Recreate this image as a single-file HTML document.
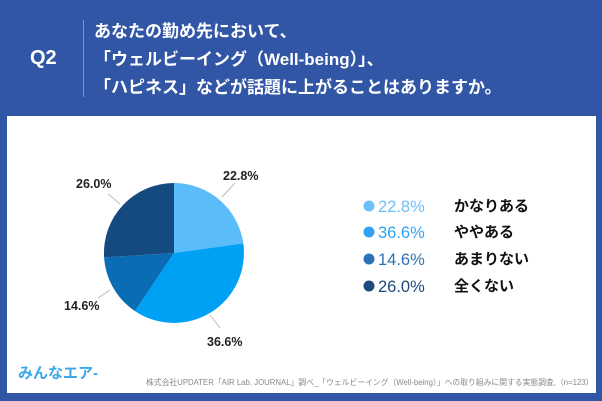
<!DOCTYPE html>
<html><head><meta charset="utf-8"><style>
body{margin:0;width:602px;height:401px;background:#3156a6;position:relative;overflow:hidden;font-family:"Liberation Sans","Noto Sans CJK JP",sans-serif}
.q{position:absolute;left:30px;top:47px;color:#fff;font-weight:bold;font-size:20px}
.bar{position:absolute;left:83px;top:20px;width:1px;height:77px;background:#7a94cc}
.t{position:absolute;left:94px;top:18px;color:#fff;font-weight:bold;font-size:17px;line-height:28px;white-space:nowrap}
.panel{position:absolute;left:7px;top:116px;width:589px;height:277px;background:#fff}
.foot{position:absolute;left:146px;top:377px;font-size:7.8px;color:#888;white-space:nowrap}
.logo{position:absolute;left:18px;top:362px;font-size:15px;color:#3aa8e8;font-weight:bold}
</style></head><body>
<div class="q">Q2</div><div class="bar"></div>
<div class="t">あなたの勤め先において、<br>「ウェルビーイング（Well-being）」、<br>「ハピネス」などが話題に上がることはありますか。</div>
<div class="panel"></div>
<svg style="position:absolute;left:0;top:0" width="602" height="401">
<path d="M174,253 L174,183 A70,70 0 0 1 243.3,243.4 Z" fill="#5bbcfa"/>
<path d="M174,253 L243.3,243.4 A70,70 0 0 1 135,311.1 Z" fill="#00a0f5"/>
<path d="M174,253 L135,311.1 A70,70 0 0 1 104.1,257.4 Z" fill="#0a6cb5"/>
<path d="M174,253 L104.1,257.4 A70,70 0 0 1 174,183 Z" fill="#154a80"/>
<g stroke="#bbb" stroke-width="1" fill="none">
<line x1="222" y1="197" x2="235" y2="183"/>
<line x1="210" y1="315" x2="220" y2="328"/>
<line x1="110" y1="290" x2="98" y2="298"/>
<line x1="120" y1="204" x2="108" y2="194"/>
</g>
<g font-family="Liberation Sans, sans-serif" font-size="12.5" fill="#222" font-weight="bold">
<text x="223" y="180">22.8%</text>
<text x="207" y="346">36.6%</text>
<text x="64" y="310">14.6%</text>
<text x="76" y="188">26.0%</text>
</g>
<g font-family="Liberation Sans, sans-serif" font-size="16.5">
<circle cx="369" cy="206" r="5.5" fill="#6cc0f8"/><text x="378" y="212" fill="#6cc0f8">22.8%</text>
<circle cx="369" cy="232" r="5.5" fill="#2fa3f2"/><text x="378" y="238" fill="#2fa3f2">36.6%</text>
<circle cx="369" cy="259" r="5.5" fill="#2d72b4"/><text x="378" y="265" fill="#2d72b4">14.6%</text>
<circle cx="369" cy="286" r="5.5" fill="#1c4a7c"/><text x="378" y="292" fill="#1c4a7c">26.0%</text>
</g>
<g font-family="Liberation Sans, Noto Sans CJK JP, sans-serif" font-size="15" font-weight="bold" fill="#111">
<text x="454" y="211">かなりある</text>
<text x="454" y="237">ややある</text>
<text x="454" y="264">あまりない</text>
<text x="454" y="291">全くない</text>
</g>
</svg>
<div class="logo">みんなエア-</div>
<div class="foot">株式会社UPDATER「AIR Lab. JOURNAL」調べ_「ウェルビーイング（Well-being）」への取り組みに関する実態調査,（n=123）</div>
</body></html>
